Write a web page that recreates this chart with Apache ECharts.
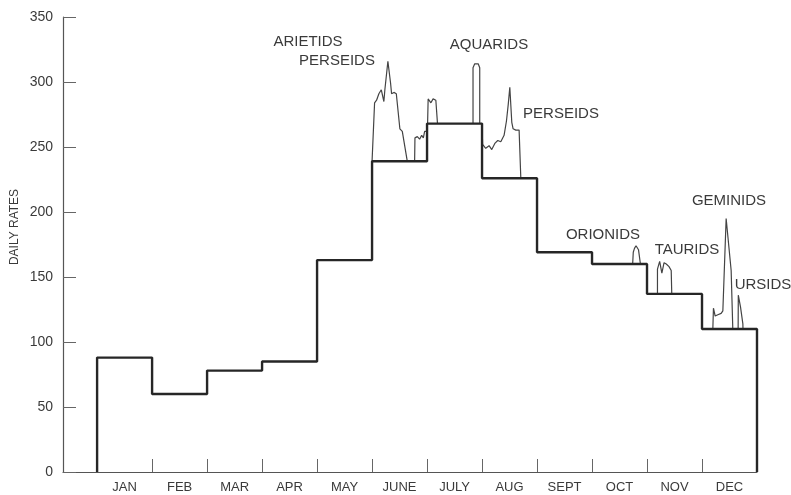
<!DOCTYPE html>
<html>
<head>
<meta charset="utf-8">
<script src="https://cdn.jsdelivr.net/npm/echarts@6/dist/echarts.min.js"></script>
<style>
  html, body { margin: 0; padding: 0; background: #fff; }
  #chart { width: 791px; height: 495px; }
</style>
</head>
<body>
<div id="chart"></div>
<script>
// monthly mean daily rates (thick step line)
var months = ['JAN', 'FEB', 'MAR', 'APR', 'MAY', 'JUNE', 'JULY', 'AUG', 'SEPT', 'OCT', 'NOV', 'DEC'];
var monthlyRates = [88, 60, 78, 85, 163, 239, 268, 226, 169, 160, 137, 110];
var yTicks = [0, 50, 100, 150, 200, 250, 300, 350];

// shower peaks, [month position, daily rate]
var arietidsPerseids = [[5.0, 239], [5.046, 284], [5.082, 286], [5.124, 291], [5.168, 294], [5.215, 285],
  [5.233, 294], [5.288, 316], [5.337, 299], [5.355, 291], [5.397, 292], [5.441, 291], [5.506, 264],
  [5.55, 262], [5.641, 239]];
var lateJune = [[5.774, 239], [5.78, 257], [5.823, 258], [5.865, 256], [5.902, 259], [5.933, 257],
  [5.956, 262], [6.0, 262]];
var earlyJuly = [[6.01, 268], [6.02, 287], [6.07, 284], [6.11, 287], [6.16, 286], [6.19, 286], [6.19, 268]];
var aquarids = [[6.836, 268], [6.836, 311], [6.867, 314], [6.898, 315], [6.93, 314], [6.958, 311], [6.958, 268]];
var augPerseids = [[7.0, 268], [7.01, 252], [7.067, 249], [7.128, 251], [7.177, 248], [7.237, 253],
  [7.286, 255], [7.341, 254], [7.401, 259], [7.444, 270], [7.477, 283], [7.505, 296], [7.541, 269],
  [7.565, 264], [7.614, 263], [7.674, 263], [7.705, 262], [7.705, 226]];
var orionids = [[9.739, 160], [9.75, 169], [9.772, 172], [9.8, 174], [9.827, 173], [9.845, 171], [9.88, 160]];
var taurids = [[10.19, 137], [10.19, 156], [10.23, 162], [10.27, 153], [10.31, 161], [10.35, 160],
  [10.40, 158], [10.44, 155], [10.45, 137]];
var geminids = [[11.197, 110], [11.208, 126], [11.239, 120], [11.288, 121], [11.32, 120], [11.348, 122],
  [11.379, 124], [11.439, 195], [11.53, 155], [11.56, 110]];
var ursids = [[11.657, 110], [11.66, 136], [11.70, 127], [11.743, 114], [11.745, 110]];

var showerNames = ['ARIETIDS', 'PERSEIDS', 'AQUARIDS', 'PERSEIDS', 'ORIONIDS', 'TAURIDS', 'GEMINIDS', 'URSIDS'];

// where each name sits on the page (pixels)
var namePos = [[308, 42], [337, 61], [489, 45], [561, 114], [603, 235], [687, 250], [729, 201], [763, 285]];

var chart = echarts.init(document.getElementById('chart'));
var textColor = '#3a3a3a';
var font = 'Liberation Sans, Arial, sans-serif';

// step outline: up from zero at Jan, down to zero after Dec
var stepData = [[0, 0]];
monthlyRates.forEach(function (v, i) { stepData.push([i, v]); });
stepData.push([12, monthlyRates[11]]);
stepData.push([12, 0]);

function thin(data) {
  return {
    type: 'line',
    data: data,
    showSymbol: false,
    symbol: 'none',
    z: 2,
    lineStyle: { color: '#444', width: 1.2 },
    animation: false
  };
}

var graphics = showerNames.map(function (name, i) {
  return {
    type: 'text',
    x: namePos[i][0],
    y: namePos[i][1],
    style: {
      text: name,
      fill: textColor,
      font: '15px ' + font,
      textAlign: 'center',
      textVerticalAlign: 'middle'
    }
  };
});
graphics.push({
  type: 'text',
  x: 15,
  y: 227,
  rotation: Math.PI / 2,
  style: {
    text: 'DAILY RATES',
    fill: textColor,
    font: '12px ' + font,
    textAlign: 'center',
    textVerticalAlign: 'middle'
  }
});

var option = {
  backgroundColor: '#fff',
  animation: false,
  grid: { left: 63, right: 34, top: 17, bottom: 23 },
  xAxis: {
    type: 'value',
    min: -0.62,
    max: 12,
    splitLine: { show: false },
    axisLine: { show: true, lineStyle: { color: '#555', width: 1.2 } },
    axisTick: {
      show: true,
      inside: true,
      length: 13,
      customValues: [1, 2, 3, 4, 5, 6, 7, 8, 9, 10, 11],
      lineStyle: { color: '#666', width: 1 }
    },
    axisLabel: {
      show: true,
      customValues: months.map(function (m, i) { return i + 0.5; }),
      formatter: function (v) { return months[Math.round(v - 0.5)]; },
      color: textColor,
      fontFamily: font,
      fontSize: 13,
      margin: 9
    }
  },
  yAxis: {
    type: 'value',
    min: 0,
    max: 350,
    interval: 50,
    splitLine: { show: false },
    axisLine: { show: true, onZero: false, lineStyle: { color: '#555', width: 1.2 } },
    axisTick: { show: true, inside: true, length: 13, lineStyle: { color: '#666', width: 1 } },
    axisLabel: {
      color: textColor,
      fontFamily: font,
      fontSize: 14,
      margin: 10,
      formatter: function (v) { return yTicks.indexOf(v) >= 0 ? String(v) : ''; }
    }
  },
  graphic: graphics,
  series: [
    thin(arietidsPerseids),
    thin(lateJune),
    thin(earlyJuly),
    thin(aquarids),
    thin(augPerseids),
    thin(orionids),
    thin(taurids),
    thin(geminids),
    thin(ursids),
    {
      type: 'line',
      step: 'end',
      data: stepData,
      showSymbol: false,
      symbol: 'none',
      z: 3,
      lineStyle: { color: '#262626', width: 2.4 }
    }
  ]
};

chart.setOption(option);
</script>
</body>
</html>
